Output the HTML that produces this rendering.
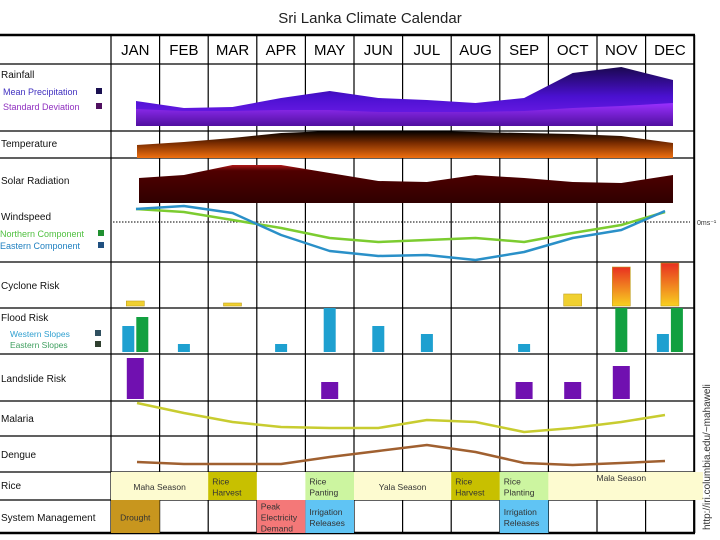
<!DOCTYPE html>
<html><head><meta charset="utf-8"><style>
body{margin:0;background:#fff;width:720px;height:540px;overflow:hidden;font-family:"Liberation Sans","DejaVu Sans",sans-serif}
svg{display:block}
</style></head><body>
<svg id="c" width="720" height="540" xmlns="http://www.w3.org/2000/svg">
<defs>
<linearGradient id="gRain" x1="0" y1="0" x2="0" y2="1"><stop offset="0" stop-color="#1a0850"/><stop offset="0.5" stop-color="#4a10d0"/><stop offset="1" stop-color="#7a20f0"/></linearGradient>
<linearGradient id="gStd" x1="0" y1="0" x2="0" y2="1"><stop offset="0" stop-color="#9a30ff"/><stop offset="1" stop-color="#5010a0"/></linearGradient>
<linearGradient id="gTemp" x1="0" y1="0" x2="0" y2="1"><stop offset="0" stop-color="#000"/><stop offset="0.45" stop-color="#7a2c00"/><stop offset="1" stop-color="#f07010"/></linearGradient>
<linearGradient id="gSolar" x1="0" y1="0" x2="0" y2="1"><stop offset="0" stop-color="#b01818"/><stop offset="0.15" stop-color="#500000"/><stop offset="1" stop-color="#300000"/></linearGradient>
<linearGradient id="gCyc" x1="0" y1="0" x2="0" y2="1"><stop offset="0" stop-color="#e83020"/><stop offset="1" stop-color="#f8d020"/></linearGradient>
</defs>
<text x="370" y="23" text-anchor="middle" font-size="15" fill="#222">Sri Lanka Climate Calendar</text>
<g id="grid"></g>
<g id="marks"></g>
<g id="labels"></g>
<text transform="translate(710,530) rotate(-90)" font-size="10" fill="#333">http://iri.columbia.edu/~mahaweli</text>
</svg>
<script>
const months=["JAN","FEB","MAR","APR","MAY","JUN","JUL","AUG","SEP","OCT","NOV","DEC"];
const rainMean=[25,18,19,28,35,28,26,23,28,53,59,46];
const rainStd=[17,15,15,16,16,14,14,14,15,18,20,23];
const temperature=[13,16,20,25,27,27,27,26,25,24,22,15];
const solar=[25,28,38,38,30,22,21,28,25,21,20,28];
const windNorth=[13,10,2,-6,-16,-20,-18,-16,-20,-11,-3,10];
const windEast=[13,16,9,-13,-29,-34,-33,-38,-30,-16,-8,11];
const cyclone=[5,0,3,0,0,0,0,0,0,12,39,43];
const floodWest=[26,8,0,8,44,26,18,0,8,0,0,18];
const floodEast=[35,0,0,0,0,0,0,0,0,0,44,44];
const landslide=[41,0,0,0,17,0,0,0,17,17,33,0];
const malaria=[30,20,11,6,5,5,13,11,1,5,11,18];
const dengue=[8,6,6,6,13,19,25,18,7,5,7,9];

const NS="http://www.w3.org/2000/svg";
const x0=111,cw=48.6,right=695;
const xc=i=>x0+cw*(i+0.5);
const rows=[35,64,131,158,203,262,308,354,401,436,472,500,533];
function el(tag,attrs,parent){const e=document.createElementNS(NS,tag);for(const k in attrs)e.setAttribute(k,attrs[k]);parent.appendChild(e);return e;}
const G=document.getElementById('grid'),M=document.getElementById('marks'),L=document.getElementById('labels');

function area(vals,base,scale,fill,name,startX,endX){
  let pts=vals.map((v,i)=>[i===0?startX:(i===11?endX:xc(i)),base-v*scale]);
  let d="M"+pts[0][0]+","+base+" "+pts.map(p=>"L"+p[0]+","+p[1]).join(" ")+" L"+pts[11][0]+","+base+"Z";
  const p=el('path',{d:d,fill:fill},M);
  
  
}
function line(vals,base,scale,color,w,name,startX,endX){
  let pts=vals.map((v,i)=>[i===0?startX:(i===11?endX:xc(i)),base-v*scale]);
  const p=el('polyline',{points:pts.map(p=>p.join(",")).join(" "),fill:"none",stroke:color,"stroke-width":w,"stroke-linejoin":"round"},M);
  
  
}
area(rainMean,126,1,"url(#gRain)","rainfall-mean-area",136,673);
area(rainStd,126,1,"url(#gStd)","rainfall-std-area",136,673);
area(temperature,158,1,"url(#gTemp)","temperature-area",137,673);
area(solar,203,1,"url(#gSolar)","solar-radiation-area",139,673);
const zl=el('line',{x1:113,y1:222,x2:690,y2:222,stroke:"#000","stroke-dasharray":"1.5,1.5","stroke-width":1},M);


line(windNorth,222,1,"#7ccc30",2.5,"wind-northern-line",136,665);
line(windEast,222,1,"#2a90c8",2.5,"wind-eastern-line",136,665);
line(malaria,433,1,"#c8cc30",2.5,"malaria-line",137,665);
line(dengue,470,1,"#a06030",2.5,"dengue-line",137,665);

cyclone.forEach((v,i)=>{if(!v)return;
  const r=el('rect',{x:xc(i)-9,y:306-v,width:18,height:v,fill:v>20?"url(#gCyc)":"#f0d030",stroke:"#c0a020","stroke-width":0.6},M);
  
  
});
months.forEach((m,i)=>{
  const both=floodWest[i]&&floodEast[i];
  if(floodWest[i]){
    const r=el('rect',{x:xc(i)+(both?-7:0)-6,y:352-floodWest[i],width:12,height:floodWest[i],fill:"#1ea0d0"},M);
    
    
  }
  if(floodEast[i]){
    const r=el('rect',{x:xc(i)+(both?7:0)-6,y:352-floodEast[i],width:12,height:floodEast[i],fill:"#12a040"},M);
    
    
  }
  if(landslide[i]){
    const r=el('rect',{x:xc(i)-8.5,y:399-landslide[i],width:17,height:landslide[i],fill:"#7010b0"},M);
    
    
  }
});

const rice=[[0,2,"#fdfbd0","Maha Season"],[2,3,"#c8c000","Rice\nHarvest"],[4,5,"#ccf5a0","Rice\nPanting"],[5,7,"#fdfbd0","Yala Season"],[7,8,"#c8c000","Rice\nHarvest"],[8,9,"#ccf5a0","Rice\nPlanting"],[9,12,"#fdfbd0","Mala Season"]];
const sys=[[0,1,"#c8961e","Drought"],[3,4,"#f47878","Peak\nElectricity\nDemand"],[4,5,"#60c4f4","Irrigation\nReleases"],[8,9,"#60c4f4","Irrigation\nReleases"]];
function boxes(list,y1,y2,prefix,topAlign){
  list.forEach(b=>{
    const x=x0+cw*b[0],w=cw*(b[1]-b[0]);
    const r=el('rect',{x:x,y:y1,width:(b[1]===12?right+8-x:w),height:y2-y1,fill:b[2]},M);
    
    
    const lines=b[3].split("\n");
    const multi=lines.length>1;
    lines.forEach((t,k)=>{
      const ty=(topAlign&&b[1]===12)?y1+9:(y1+y2)/2+4+(k-(lines.length-1)/2)*11;
      const tx=multi?x+4:x+w/2;
      const tt=el('text',{x:tx,y:ty,"font-size":8.5,fill:"#333","text-anchor":multi?"start":"middle"},M);
      tt.textContent=t;
      
      
    });
  });
}
const rb=el('rect',{x:x0,y:472,width:right+8-x0,height:28,fill:"#fdfbd0"},M);


const ra=el('rect',{x:x0+cw*3,y:472,width:cw,height:28,fill:"#fff"},M);


boxes(rice,472,500,"rice",true);
boxes(sys,500,533,"system",false);

for(let i=0;i<=12;i++){
  const x=x0+cw*i;
  const segs=[[35,472],[500,533]];
  if(i===12) segs[0]=[35,533];
  segs.forEach(s=>{
    const l=el('line',{x1:x,y1:s[0],x2:x,y2:s[1],stroke:"#000","stroke-width":i===12?2:1.2},G);
    
    
  });
}
[0,2,3,4,5,7,8,9].forEach(i=>{const x=x0+cw*i;
  const l=el('line',{x1:x,y1:472,x2:x,y2:500,stroke:"#000","stroke-width":1.2},G);
  
  });
rows.forEach((y,k)=>{
  if(k===4)return;
  const l=el('line',{x1:0,y1:y,x2:right,y2:y,stroke:"#000","stroke-width":(k===0||k===12)?2.5:1.2},G);
  
  
});
months.forEach((m,i)=>{
  const t=el('text',{x:xc(i),y:55,"text-anchor":"middle","font-size":15,fill:"#000"},L);
  t.textContent=m;
  
  
});
const labs=[["Rainfall",78],["Temperature",147],["Solar Radiation",184],["Windspeed",220],["Cyclone Risk",289],["Flood Risk",321],["Landslide Risk",382],["Malaria",422],["Dengue",458],["Rice",489],["System Management",521]];
labs.forEach(a=>{
  const t=el('text',{x:1,y:a[1],"font-size":10,fill:"#111"},L);
  t.textContent=a[0];
  
  
});
const leg=[["Mean Precipitation",95,"#4030c0","#1a1050"],["Standard Deviation",110,"#9030c0","#501060"],["Northern Component",237,"#50c040","#209030"],["Eastern Component",249,"#2080c0","#205080"],["Western Slopes",337,"#30a0d0","#305060"],["Eastern Slopes",348,"#40a060","#304030"]];
leg.forEach(a=>{
  const t=el('text',{x:a[0].startsWith("Northern")||a[0].startsWith("Eastern C")?0:3,y:a[1],"font-size":a[0].includes("Slopes")?8.5:9,fill:a[2]},L);
  if(a[0].includes("Slopes"))t.setAttribute('x',10);
  t.textContent=a[0];
  
  
  const sq=el('rect',{x:a[0].includes("Slopes")?95:(a[1]>200?98:96),y:a[1]-7,width:6,height:6,fill:a[3]},L);
  
  
});
const ms=el('text',{x:697,y:225,"font-size":7,fill:"#333"},L);
ms.textContent="0ms⁻¹";


</script>
</body></html>
